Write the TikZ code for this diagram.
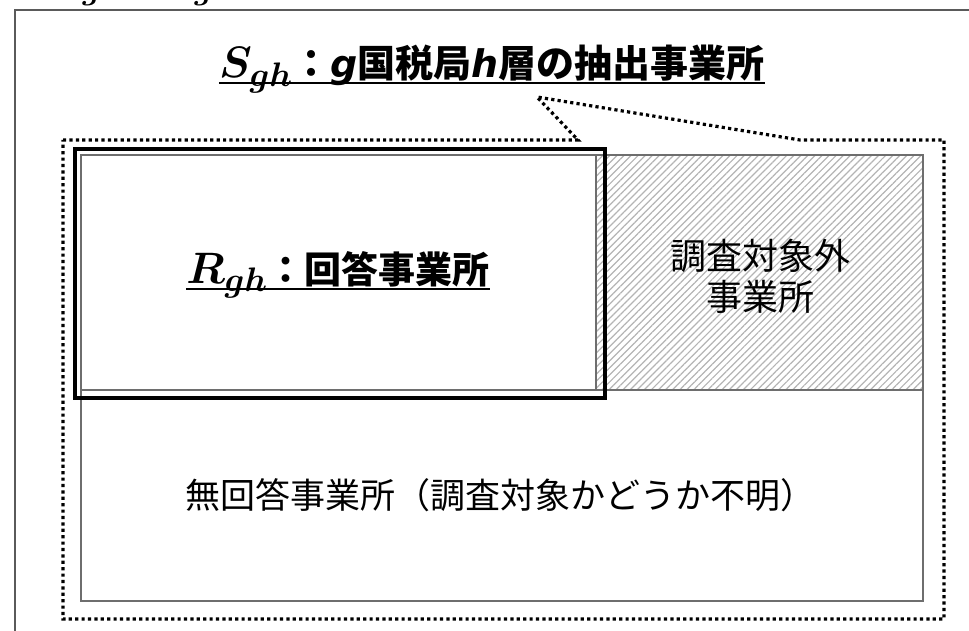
\RequirePackage{fix-cm}
\documentclass[tikz,border=0pt]{standalone}
\usepackage{fontspec}
\usepackage{amsmath,bm}
\usetikzlibrary{patterns.meta}
\newfontfamily\jp{Noto Sans CJK JP}
\newfontfamily\vsans{DejaVu Sans}
\newcommand{\latbi}[1]{{\vsans\bfseries\itshape #1}}
\newcommand{\mysub}[1]{\mbox{\fontsize{34}{38}\selectfont$\boldsymbol{#1}$}}
\newcommand{\bigmath}[2]{{\fontsize{44}{50}\selectfont$\boldsymbol{#1}_{\mysub{#2}}$}}
\definecolor{framegray}{HTML}{5A5A5A}
\definecolor{boxgray}{HTML}{6E6E6E}
\definecolor{hatchgray}{HTML}{B4B4B4}
\begin{document}
\begin{tikzpicture}[x=1pt,y=-1pt,
  dotline/.style={line width=3.2pt, dash pattern=on 3.2pt off 3.2pt, black},
  graybox/.style={draw=boxgray, line width=2pt},
  blackbox/.style={draw=black, line width=3.5pt},
  lbl/.style={inner sep=0pt, font=\jp},
  uline/.style={line width=2.5pt, black}]
\useasboundingbox (0,0) rectangle (969,631);
% cut-off text at the very top
\node[anchor=base, inner sep=0pt] (cut1) at (102,0) {\fontsize{32}{36}\selectfont$\boldsymbol{gh}$};
\node[anchor=base, inner sep=0pt] (cut2) at (214,0) {\fontsize{32}{36}\selectfont$\boldsymbol{gh}$};
% outer frame
\draw[framegray, line width=2pt] (15,640) -- (15,10) -- (980,10);
% hatched area
\fill[pattern={Lines[angle=45,distance=5pt,line width=1.2pt]}, pattern color=hatchgray] (596,155) rectangle (923,390);
% gray boxes
\draw[graybox] (81,155) rectangle (923,601);
\draw[graybox] (81,390) -- (923,390);
\draw[graybox] (596,155) -- (596,390);
% black box
\draw[blackbox] (75,149) rectangle (605,398);
% dotted callout
\draw[dotline] (63,140) -- (578,140) -- (537,97) -- (800,140) -- (944,140) -- (944,619) -- (63,619) -- cycle;
% title
\node[lbl, anchor=base] (title) at (492,78) {\fontsize{38}{44}\selectfont\bfseries \bigmath{S}{gh}：\latbi{g}国税局\latbi{h}層の抽出事業所};
\draw[uline] ([yshift=-5pt]title.base west) -- ([yshift=-5pt]title.base east);
% R label
\node[lbl, anchor=base] (rlab) at (338,283) {\fontsize{37}{44}\selectfont\bfseries \bigmath{R}{gh}：回答事業所};
\draw[uline] ([yshift=-6pt]rlab.base west) -- ([yshift=-6pt]rlab.base east);
% out of scope
\node[lbl, align=center, font=\jp\fontsize{36}{41}\selectfont] (outs) at (760,276) {調査対象外\\事業所};
% non response
\node[lbl] (nonr) at (500,495) {\fontsize{35}{42}\selectfont 無回答事業所（調査対象かどうか不明）};
\end{tikzpicture}
\end{document}
